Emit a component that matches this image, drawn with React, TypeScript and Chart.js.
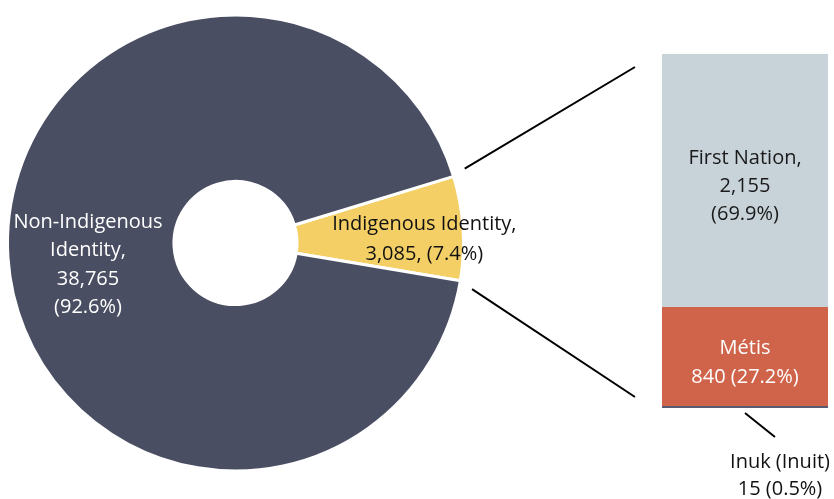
import React, { useEffect, useRef } from "react";
import { Chart, registerables } from "chart.js";

Chart.register(...registerables);

// ---- data ----
const identityCategories = ["Indigenous Identity", "Non-Indigenous Identity"];
const identityValues = [3085, 38765];
const identityPct = ["7.4%", "92.6%"];

const subgroupCategories = ["Inuk (Inuit)", "Métis", "First Nation"];
const subgroupValues = [15, 840, 2155];
const subgroupPct = ["0.5%", "27.2%", "69.9%"];

const identityColors = ["#f4cf66", "#4a4e63"];
const subgroupColors = ["#585c72", "#d0644b", "#c7d2d9"];

const FONT = '"Open Sans", sans-serif';
const fmt = (v: number) => v.toLocaleString("en-US");

const W = 834;
const H = 499;

function drawLines(ctx: CanvasRenderingContext2D, lines: string[], x: number, y: number, color: string, size: number, lh: number) {
  ctx.save();
  ctx.fillStyle = color;
  ctx.font = `${size}px ${FONT}`;
  ctx.textAlign = "center";
  ctx.textBaseline = "middle";
  const start = y - ((lines.length - 1) * lh) / 2;
  lines.forEach((t, i) => ctx.fillText(t, x, start + i * lh));
  ctx.restore();
}

export default function App() {
  const pieRef = useRef<HTMLCanvasElement | null>(null);
  const barRef = useRef<HTMLCanvasElement | null>(null);

  useEffect(() => {
    document.body.style.margin = "0";
    if (!pieRef.current || !barRef.current) return;

    const pieLabelPlugin = {
      id: "pieLabels",
      afterDatasetsDraw(chart: any) {
        const ctx = chart.ctx;
        const meta = chart.getDatasetMeta(0);
        meta.data.forEach((arc: any, i: number) => {
          const { x, y, startAngle, endAngle, innerRadius, outerRadius } = arc.getProps(
            ["x", "y", "startAngle", "endAngle", "innerRadius", "outerRadius"],
            true
          );
          const mid = (startAngle + endAngle) / 2;
          if (i === 0) {
            const r = outerRadius * 0.83;
            drawLines(
              ctx,
              [`${identityCategories[0]},`, `${fmt(identityValues[0])}, (${identityPct[0]})`],
              x + Math.cos(mid) * r,
              y + Math.sin(mid) * r + 9,
              "#111111",
              20,
              30
            );
          } else {
            const r = (innerRadius + outerRadius) / 2 + 3;
            drawLines(
              ctx,
              ["Non-Indigenous", "Identity,", fmt(identityValues[1]), `(${identityPct[1]})`],
              x + Math.cos(mid) * r,
              y + Math.sin(mid) * r + 12,
              "#ffffff",
              20,
              28.5
            );
          }
        });
      },
    };

    const pie = new Chart(pieRef.current, {
      type: "doughnut",
      data: {
        labels: identityCategories,
        datasets: [
          {
            data: identityValues,
            backgroundColor: identityColors,
            borderColor: "#ffffff",
            borderWidth: 3,
          },
        ],
      },
      options: {
        responsive: false,
        animation: false,
        rotation: 73,
        cutout: "27%",
        layout: { padding: { left: 6, right: 369, top: 13, bottom: 26 } },
        plugins: { legend: { display: false }, tooltip: { enabled: false } },
      },
      plugins: [pieLabelPlugin],
    });

    const barPlugin = {
      id: "barExtras",
      afterDatasetsDraw(chart: any) {
        const ctx = chart.ctx;
        const top = chart.getDatasetMeta(2).data[0];
        const bottom = chart.getDatasetMeta(0).data[0];
        const barLeft = top.x - top.width / 2;
        const barTop = top.y;
        const barBottom = bottom.base;
        const cx = top.x;

        // connectors from pie slice to bar
        const arc = pie.getDatasetMeta(0).data[0] as any;
        const p = arc.getProps(["x", "y", "startAngle", "endAngle", "outerRadius"], true);
        const rr = p.outerRadius + 13;
        const a1 = p.startAngle - (1 * Math.PI) / 180;
        const a2 = p.endAngle + (1.5 * Math.PI) / 180;
        ctx.save();
        ctx.strokeStyle = "#000000";
        ctx.lineWidth = 2;
        ctx.beginPath();
        ctx.moveTo(p.x + Math.cos(a1) * rr, p.y + Math.sin(a1) * rr);
        ctx.lineTo(barLeft - 27, barTop + 13);
        ctx.moveTo(p.x + Math.cos(a2) * rr, p.y + Math.sin(a2) * rr);
        ctx.lineTo(barLeft - 27, barBottom - 11);
        // Inuk leader
        ctx.moveTo(cx, barBottom + 5);
        ctx.lineTo(cx + 30, barBottom + 29);
        ctx.stroke();
        ctx.restore();

        // labels
        const fn = chart.getDatasetMeta(2).data[0];
        drawLines(
          ctx,
          [`${subgroupCategories[2]},`, fmt(subgroupValues[2]), `(${subgroupPct[2]})`],
          fn.x,
          (fn.y + fn.base) / 2 + 6,
          "#1a1a1a",
          20,
          28
        );
        const me = chart.getDatasetMeta(1).data[0];
        drawLines(
          ctx,
          [subgroupCategories[1], `${fmt(subgroupValues[1])} (${subgroupPct[1]})`],
          me.x,
          (me.y + me.base) / 2 + 6,
          "#ffffff",
          20,
          29
        );
        drawLines(
          ctx,
          [subgroupCategories[0], `${fmt(subgroupValues[0])} (${subgroupPct[0]})`],
          cx + 35,
          barBottom + 68,
          "#111111",
          20,
          27
        );
      },
    };

    const bar = new Chart(barRef.current, {
      type: "bar",
      data: {
        labels: [""],
        datasets: subgroupCategories.map((c, i) => ({
          label: c,
          data: [subgroupValues[i]],
          backgroundColor: subgroupColors[i],
          borderWidth: 0,
          barPercentage: 1,
          categoryPercentage: 1,
        })),
      },
      options: {
        responsive: false,
        animation: false,
        layout: { padding: { left: 662, right: 6, top: 54, bottom: 91 } },
        scales: {
          x: { stacked: true, display: false },
          y: {
            stacked: true,
            display: false,
            min: 0,
            max: subgroupValues.reduce((a, b) => a + b, 0),
          },
        },
        plugins: { legend: { display: false }, tooltip: { enabled: false } },
      },
      plugins: [barPlugin],
    });

    return () => {
      bar.destroy();
      pie.destroy();
    };
  }, []);

  return (
    <div style={{ position: "relative", width: W, height: H, background: "#ffffff" }}>
      <canvas ref={pieRef} width={W} height={H} style={{ position: "absolute", left: 0, top: 0 }} />
      <canvas ref={barRef} width={W} height={H} style={{ position: "absolute", left: 0, top: 0 }} />
    </div>
  );
}
